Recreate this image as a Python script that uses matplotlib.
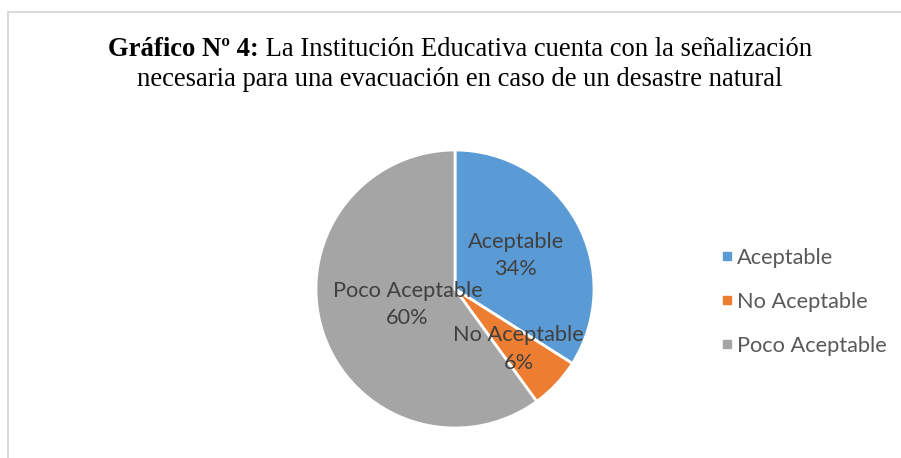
import matplotlib
matplotlib.use("Agg")
import matplotlib.pyplot as plt
from matplotlib.lines import Line2D
from matplotlib.patches import Rectangle
import numpy as np

categories = ["Aceptable", "No Aceptable", "Poco Aceptable"]
values = [34, 6, 60]
colors = ["#5B9BD5", "#ED7D31", "#A5A5A5"]
label_dist = [0.50, 0.63, 0.36]

W, H = 901, 458
fig = plt.figure(figsize=(W / 100, H / 100), dpi=100)
fig.patch.set_facecolor("white")

# border
fig.patches.append(Rectangle((7.5 / W, -0.05), 1.2, (H - 11.5) / H + 0.05,
                             transform=fig.transFigure, fill=False,
                             edgecolor="#D9D9D9", linewidth=1.5))

# pie
cx, cy, R = 455, H - 289, 139
ax = fig.add_axes([(cx - R) / W, (cy - R) / H, 2 * R / W, 2 * R / H])
wedges, _ = ax.pie(values, colors=colors, startangle=90, counterclock=False,
                   radius=1.0, wedgeprops=dict(edgecolor="white", linewidth=2))
ax.set_xlim(-1, 1)
ax.set_ylim(-1, 1)
ax.axis("off")

lfs = 15.7
for w, cat, v, d in zip(wedges, categories, values, label_dist):
    ang = np.deg2rad((w.theta1 + w.theta2) / 2)
    ax.text(d * np.cos(ang), d * np.sin(ang), f"{cat}\n{v}%",
            ha="center", va="center", fontsize=lfs, family="Lato",
            color="#404040", linespacing=1.45)

# legend
handles = [Line2D([], [], marker="s", linestyle="none", markersize=6,
                  markerfacecolor=c, markeredgecolor=c) for c in colors]
fig.legend(handles, categories, loc="center left",
           bbox_to_anchor=(701 / W, 1 - 302 / H), frameon=False,
           prop=dict(family="Lato", size=lfs), labelcolor="#595959",
           handlelength=0.6, handletextpad=0.15, labelspacing=1.1)

# title with mixed weights
fig.canvas.draw()
r = fig.canvas.get_renderer()
serif = "Liberation Serif"
fs = 19.2
y1 = 1 - 49 / H
t_bold = fig.text(0, y1, "Gráfico Nº 4:", fontsize=fs, family=serif,
                  weight="bold", ha="left", va="center", color="black")
t_norm = fig.text(0, y1, " La Institución Educativa cuenta con la señalización",
                  fontsize=fs, family=serif, ha="left", va="center", color="black")
wb = t_bold.get_window_extent(r).width
wn = t_norm.get_window_extent(r).width
center_x = 460
x0 = center_x - (wb + wn) / 2
t_bold.set_x(x0 / W)
t_norm.set_x((x0 + wb) / W)
fig.text(center_x / W, 1 - 80 / H,
         "necesaria para una evacuación en caso de un desastre natural",
         fontsize=fs, family=serif, ha="center", va="center", color="black")

fig.savefig("out.png", dpi=100)
